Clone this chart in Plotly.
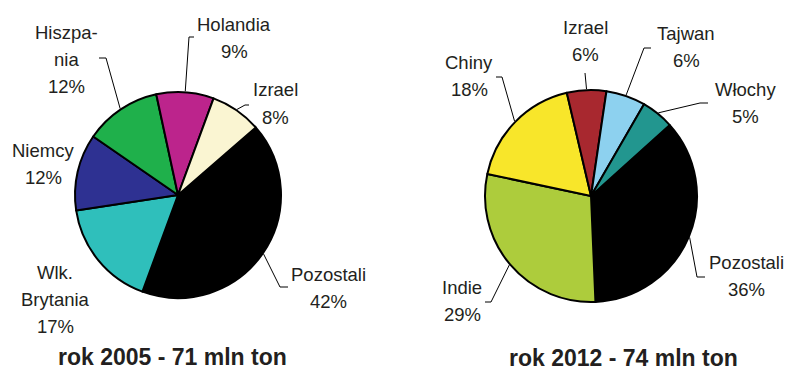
import math
import plotly.graph_objects as go

W, H = 786, 370

# ---- data ----
labels_2005 = ["Pozostali", "Wlk. Brytania", "Niemcy", "Hiszpania", "Holandia", "Izrael"]
values_2005 = [42, 17, 12, 12, 9, 8]
names_2005 = [["Pozostali"], ["Wlk.", "Brytania"], ["Niemcy"], ["Hiszpa-", "nia"], ["Holandia"], ["Izrael"]]
colors_2005 = ["#000000", "#2fbfbb", "#2e3192", "#1fb04b", "#bc248c", "#faf5d2"]
title_2005 = "rok 2005 - 71 mln ton"

labels_2012 = ["Pozostali", "Indie", "Chiny", "Izrael", "Tajwan", "Włochy"]
values_2012 = [36, 29, 18, 6, 6, 5]
names_2012 = [["Pozostali"], ["Indie"], ["Chiny"], ["Izrael"], ["Tajwan"], ["Włochy"]]
colors_2012 = ["#000000", "#adcc3c", "#f8e62a", "#a8282f", "#8dd1ef", "#22968f"]
title_2012 = "rok 2012 - 74 mln ton"

# ---- layout (pixel positions) ----
FONT = "Arial, Liberation Sans, Helvetica, sans-serif"
TXT = "#231f20"
LABEL_SIZE = 18.5
LINE_GAP = 27

pies = [
    dict(labels=labels_2005, values=values_2005, names=names_2005, colors=colors_2005,
         title=title_2005, cx=178, cy=195, r=103, rot=49, title_xy=(172, 357),
         lab={"Pozostali": (328, 274), "Wlk. Brytania": (55, 272), "Niemcy": (43, 150),
              "Hiszpania": (66, 32), "Holandia": (234, 24), "Izrael": (275, 90)},
         lead={"Pozostali": ((280, 287), (288, 287)), "Hiszpania": ((106, 58), (99, 58)),
               "Holandia": ((189, 37), (194, 37)), "Izrael": ((245, 105), (249, 105))}),
    dict(labels=labels_2012, values=values_2012, names=names_2012, colors=colors_2012,
         title=title_2012, cx=591, cy=196, r=106, rot=48, title_xy=(623, 358),
         lab={"Pozostali": (746, 262), "Indie": (462, 287), "Chiny": (469, 62),
              "Izrael": (585, 27), "Tajwan": (686, 34), "Włochy": (745, 89)},
         lead={"Pozostali": ((697, 277), (705, 277)), "Indie": ((491, 302), (485, 302)),
               "Chiny": ((502, 77), (496, 77)), "Izrael": ((585, 73), (585, 73)),
               "Tajwan": ((644, 48), (651, 48)), "Włochy": ((700, 103), (708, 103))}),
]


def px(x):
    return x / W


def py(y):
    return 1 - y / H


fig = go.Figure()
annotations = []
shapes = []

for p in pies:
    cx, cy, r = p["cx"], p["cy"], p["r"]
    fig.add_trace(go.Pie(
        labels=p["labels"], values=p["values"], sort=False, direction="clockwise",
        rotation=p["rot"], textinfo="none", hoverinfo="skip", showlegend=False,
        marker=dict(colors=p["colors"], line=dict(color="black", width=2)),
        domain=dict(x=[px(cx - r), px(cx + r)], y=[py(cy + r), py(cy - r)]),
    ))
    total = sum(p["values"])
    cum = 0
    for lbl, v, name in zip(p["labels"], p["values"], p["names"]):
        mid = math.radians(p["rot"] + 360 * (cum + v / 2) / total)
        cum += v
        lines = name + [f"{v}%"]
        lx, ly = p["lab"][lbl]
        for i, t in enumerate(lines):
            annotations.append(dict(
                x=px(lx), y=py(ly + i * LINE_GAP), xref="paper", yref="paper",
                text=t, showarrow=False, xanchor="center", yanchor="middle",
                font=dict(family=FONT, size=LABEL_SIZE, color=TXT)))
        if lbl in p["lead"]:
            (ex, ey), (tx, ty) = p["lead"][lbl]
            sx = cx + (r + 1) * math.sin(mid)
            sy = cy - (r + 1) * math.cos(mid)
            path = (f"M {px(sx)},{py(sy)} L {px(ex)},{py(ey)} L {px(tx)},{py(ty)}")
            shapes.append(dict(type="path", xref="paper", yref="paper", path=path,
                               line=dict(color="black", width=1)))
    tx, ty = p["title_xy"]
    annotations.append(dict(
        x=px(tx), y=py(ty), xref="paper", yref="paper", text=f"<b>{p['title']}</b>",
        showarrow=False, xanchor="center", yanchor="middle",
        font=dict(family=FONT, size=23, color=TXT)))

fig.update_layout(
    width=W, height=H, margin=dict(l=0, r=0, t=0, b=0),
    paper_bgcolor="white", plot_bgcolor="white",
    annotations=annotations, shapes=shapes,
)

fig.write_html("out.html", config={"displayModeBar": False},
               post_script="document.body.style.margin='0';document.body.style.overflow='hidden';")
